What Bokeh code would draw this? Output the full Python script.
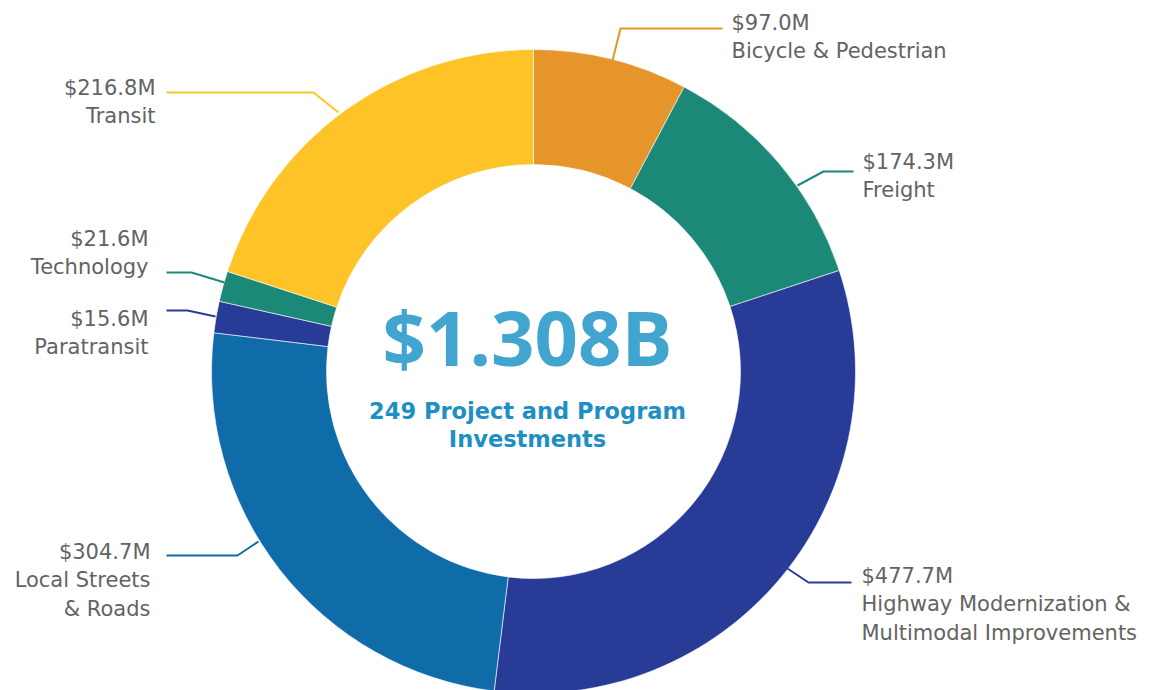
import math
from bokeh.plotting import figure
from bokeh.models import Range1d, ColumnDataSource
from bokeh.core.properties import value
from bokeh.embed import file_html
from bokeh.resources import INLINE

# ---- data ----
categories = ["Bicycle & Pedestrian", "Freight",
              "Highway Modernization & Multimodal Improvements",
              "Local Streets & Roads", "Paratransit", "Technology", "Transit"]
amounts = [97.0, 174.3, 477.7, 304.7, 15.6, 21.6, 216.8]   # $M, as labelled
# share of the ring each slice occupies, as drawn in the picture (%)
drawn_share = [7.75, 12.17, 32.03, 24.97, 1.58, 1.53, 19.97]
value_labels = ["$97.0M", "$174.3M", "$477.7M", "$304.7M", "$15.6M", "$21.6M", "$216.8M"]
name_lines = [["Bicycle & Pedestrian"], ["Freight"],
              ["Highway Modernization &", "Multimodal Improvements"],
              ["Local Streets", "& Roads"], ["Paratransit"], ["Technology"], ["Transit"]]
total_label = "$1.308B"
subtitle_lines = ["249 Project and Program", "Investments"]

# ---- style ----
colors = ["#E6952A", "#1C8877", "#283B97", "#106BA9", "#283B97", "#1C8877", "#FEC327"]
TEXT_GRAY = "#636363"
LABEL_FONT = "DejaVu Sans"

W, H = 1160, 690
def Y(sy):  # screen y -> data y
    return H - sy

cx, cy = 533, Y(371)
r_out, r_in = 322, 207

# label layout (screen coordinates): text anchor x, align, first line y, leader polyline
layout = [
    (731, "left", 22, [(612, 60), (620, 28), (722, 28)]),
    (862, "left", 161, [(797, 185), (823, 171), (853, 171)]),
    (861, "left", 575, [(787, 568), (808, 582), (851, 582)]),
    (150, "right", 551, [(258, 541), (237, 555), (166, 555)]),
    (148, "right", 318, [(215, 316), (187, 310), (166, 310)]),
    (148, "right", 238, [(224, 282), (191, 272), (166, 272)]),
    (155, "right", 87, [(338, 112), (313, 92), (166, 92)]),
]
LINE_GAP = 28.5

p = figure(width=W, height=H, output_backend="svg", toolbar_location=None,
           x_range=Range1d(0, W), y_range=Range1d(0, H),
           min_border=0, x_axis_location=None, y_axis_location=None)
p.grid.visible = False
p.outline_line_color = None
p.background_fill_color = "white"

total = sum(drawn_share)
starts, ends = [], []
acc = 0.0
for a in drawn_share:
    starts.append(math.pi / 2 - acc / total * 2 * math.pi)
    acc += a
    ends.append(math.pi / 2 - acc / total * 2 * math.pi)

src = ColumnDataSource(dict(cat=categories, amt=amounts, share=drawn_share,
                            start=starts, end=ends, color=colors))
p.annular_wedge(x=cx, y=cy, inner_radius=r_in, outer_radius=r_out,
                start_angle="start", end_angle="end", direction="clock",
                fill_color="color", line_color="white", line_width=0.6, source=src)

# leader lines and labels
for i, (tx, align, ty, pts) in enumerate(layout):
    p.line([q[0] for q in pts], [Y(q[1]) for q in pts], line_color=colors[i], line_width=2)
    lines = [value_labels[i]] + name_lines[i]
    p.text(x=[tx] * len(lines), y=[Y(ty + k * LINE_GAP) for k in range(len(lines))],
           text=lines, text_align=align, text_baseline="middle",
           text_font=value(LABEL_FONT), text_font_size="21px", text_color=TEXT_GRAY)

# center text
p.text(x=[527], y=[Y(336)], text=[total_label], text_align="center", text_baseline="middle",
       text_font=value("Open Sans"), text_font_style="bold", text_font_size="76px",
       text_color="#41A5D0")
p.text(x=[527, 527], y=[Y(410), Y(438)], text=subtitle_lines, text_align="center",
       text_baseline="middle", text_font=value("DejaVu Sans"), text_font_style="bold",
       text_font_size="22.5px", text_color="#1D8FC4")

open("out.html", "w").write(file_html(p, INLINE))
